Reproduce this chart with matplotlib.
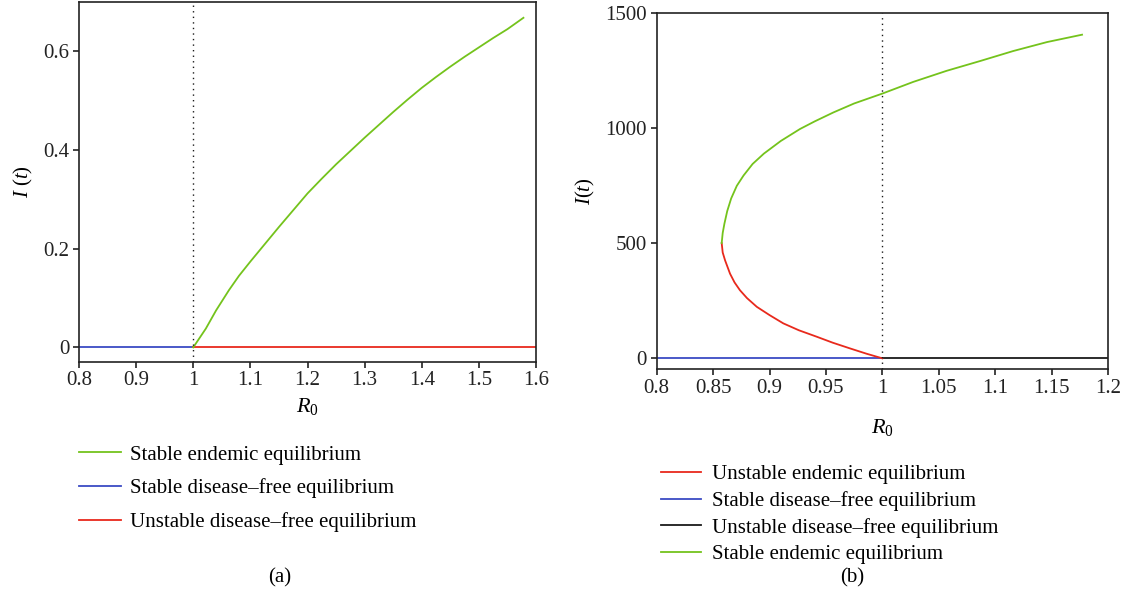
import numpy as np
import matplotlib
matplotlib.use("Agg")
import matplotlib.pyplot as plt

plt.rcParams["font.family"] = ["Liberation Serif", "DejaVu Serif"]
plt.rcParams["mathtext.fontset"] = "custom"
plt.rcParams["mathtext.rm"] = "Liberation Serif"
plt.rcParams["mathtext.it"] = "Liberation Serif:italic"

GREEN = "#74c31c"
RED = "#e8291c"
BLUE = "#3b4bc4"
BLACK = "#1a1a1a"

# panel (a): transcritical bifurcation
a_dfe_stable_x = [0.8, 1.0]
a_dfe_unstable_x = [1.0, 1.6]
a_endemic_x = [1.0, 1.011, 1.022, 1.04, 1.0625, 1.08, 1.1, 1.125, 1.15, 1.175, 1.2,
               1.225, 1.25, 1.275, 1.3, 1.325, 1.35, 1.375, 1.4, 1.425, 1.45, 1.475,
               1.5, 1.525, 1.55, 1.578]
a_endemic_y = [0.0, 0.019, 0.038, 0.075, 0.116, 0.145, 0.174, 0.209, 0.244, 0.278, 0.312,
               0.342, 0.371, 0.398, 0.425, 0.451, 0.477, 0.502, 0.526, 0.548, 0.569, 0.589,
               0.608, 0.627, 0.645, 0.668]

# panel (b): backward bifurcation
b_dfe_stable_x = [0.8, 1.0]
b_dfe_unstable_x = [1.0, 1.2]
b_stable_x = [0.8576, 0.8585, 0.8600, 0.8625, 0.866, 0.871, 0.877, 0.885, 0.895, 0.91,
              0.927, 0.94, 0.9566, 0.975, 1.0, 1.0275, 1.057, 1.087, 1.116, 1.146, 1.177]
b_stable_y = [501, 545, 585, 640, 695, 750, 795, 845, 890, 945,
              997, 1030, 1069, 1108, 1151, 1202, 1250, 1293, 1336, 1375, 1407]
b_unstable_x = [0.8576, 0.8585, 0.8606, 0.865, 0.869, 0.8738, 0.88, 0.8887, 0.90, 0.9122,
                0.926, 0.9418, 0.956, 0.9714, 0.986, 1.0]
b_unstable_y = [501, 460, 426, 368, 330, 296, 262, 224, 188, 152,
                122, 94, 68, 43, 20, 0]

W, H = 1126, 608
fig = plt.figure(figsize=(W / 100, H / 100), dpi=100)

FS = 15


def style(ax):
    for s in ax.spines.values():
        s.set_linewidth(1.2)
        s.set_color("#222222")
    ax.tick_params(direction="out", length=4, width=1.2, labelsize=FS, colors="#222222",
                   pad=3)
    ax.tick_params(top=False, right=False)


# ---- (a)
ax1 = fig.add_axes([79 / W, 1 - 361.7 / H, (536 - 79) / W, (361.7 - 2) / H])
ax1.plot(a_dfe_stable_x, [0, 0], color=BLUE, lw=1.3)
ax1.plot(a_dfe_unstable_x, [0, 0], color=RED, lw=1.3)
ax1.plot(a_endemic_x, a_endemic_y, color=GREEN, lw=1.3)
ax1.axvline(1.0, color=BLACK, lw=1.0, ls=(0, (1, 3)))
ax1.set_xlim(0.8, 1.6)
ax1.set_ylim(-0.029, 0.70)
ax1.set_xticks([0.8, 0.9, 1.0, 1.1, 1.2, 1.3, 1.4, 1.5, 1.6])
ax1.set_xticklabels(["0.8", "0.9", "1", "1.1", "1.2", "1.3", "1.4", "1.5", "1.6"])
ax1.set_yticks([0, 0.2, 0.4, 0.6])
ax1.set_yticklabels(["0", "0.2", "0.4", "0.6"])
ax1.set_xlabel("$R_0$", fontsize=FS + 1, labelpad=4)
ax1.set_ylabel("$I$ ($t$)", fontsize=FS, labelpad=6)
style(ax1)

h_se, = ax1.plot([], [], color=GREEN, lw=1.3)
h_sd, = ax1.plot([], [], color=BLUE, lw=1.3)
h_ud, = ax1.plot([], [], color=RED, lw=1.3)
fig.legend([h_se, h_sd, h_ud],
           ["Stable endemic equilibrium", "Stable disease\u2013free equilibrium",
            "Unstable disease\u2013free equilibrium"],
           loc="upper left", bbox_to_anchor=(79 / W, 1 - 445 / H), frameon=False,
           fontsize=FS, handlelength=2.0, handletextpad=0.45, labelspacing=0.66,
           borderpad=0, borderaxespad=0)
fig.text(280 / W, 1 - 578 / H, "(a)", ha="center", va="center", fontsize=FS)

# ---- (b)
ax2 = fig.add_axes([656.7 / W, 1 - 369.3 / H, (1108 - 656.7) / W, (369.3 - 13.3) / H])
ax2.plot(b_dfe_stable_x, [0, 0], color=BLUE, lw=1.3)
ax2.plot(b_dfe_unstable_x, [0, 0], color=BLACK, lw=1.3)
ax2.plot(b_unstable_x, b_unstable_y, color=RED, lw=1.3)
ax2.plot(b_stable_x, b_stable_y, color=GREEN, lw=1.3)
ax2.axvline(1.0, color=BLACK, lw=1.0, ls=(0, (1, 3)))
ax2.set_xlim(0.8, 1.2)
ax2.set_ylim(-47.7, 1500)
xt = [0.8, 0.85, 0.9, 0.95, 1.0, 1.05, 1.1, 1.15, 1.2]
ax2.set_xticks(xt)
ax2.set_xticklabels(["0.8", "0.85", "0.9", "0.95", "1", "1.05", "1.1", "1.15", "1.2"])
ax2.set_yticks([0, 500, 1000, 1500])
ax2.set_xlabel("$R_0$", fontsize=FS + 1, labelpad=14)
ax2.set_ylabel("$I(t)$", fontsize=FS, labelpad=6)
style(ax2)

h_ue, = ax2.plot([], [], color=RED, lw=1.3)
h_sd2, = ax2.plot([], [], color=BLUE, lw=1.3)
h_ud2, = ax2.plot([], [], color=BLACK, lw=1.3)
h_se2, = ax2.plot([], [], color=GREEN, lw=1.3)
fig.legend([h_ue, h_sd2, h_ud2, h_se2],
           ["Unstable endemic equilibrium", "Stable disease\u2013free equilibrium",
            "Unstable disease\u2013free equilibrium", "Stable endemic equilibrium"],
           loc="upper left", bbox_to_anchor=(661 / W, 1 - 464.5 / H), frameon=False,
           fontsize=FS, handlelength=1.9, handletextpad=0.55, labelspacing=0.33,
           borderpad=0, borderaxespad=0)
fig.text(852 / W, 1 - 578 / H, "(b)", ha="center", va="center", fontsize=FS)

fig.savefig("out.png", dpi=100)
